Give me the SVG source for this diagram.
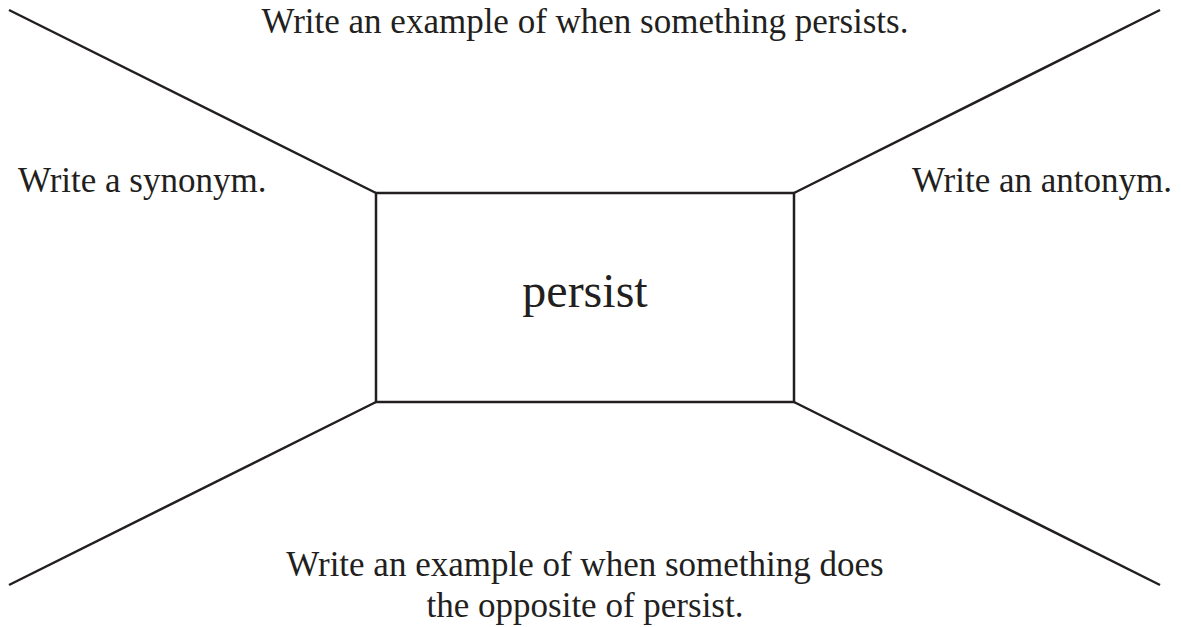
<svg xmlns="http://www.w3.org/2000/svg" width="1181" height="627" viewBox="0 0 1181 627">
<style>
.ln{stroke:#231f20;stroke-width:2.5;fill:none}
.t{font-family:"Liberation Serif","Times New Roman",serif;font-size:35px;fill:#231f20}
.big{font-family:"Liberation Serif","Times New Roman",serif;font-size:48px;fill:#231f20}
</style>
<rect width="1181" height="627" fill="#fff"/>
<g id="connectors">
<line class="ln" x1="9" y1="10" x2="376" y2="193"/>
<line class="ln" x1="1160" y1="10" x2="794" y2="193"/>
<line class="ln" x1="9" y1="585" x2="376" y2="402"/>
<line class="ln" x1="1160" y1="585" x2="794" y2="402"/>
</g>
<g id="center">
<rect class="ln" x="376" y="193" width="418" height="209"/>
<text class="big" x="585" y="307" text-anchor="middle">persist</text>
</g>
<g id="top"><text class="t" x="585" y="33" text-anchor="middle">Write an example of when something persists.</text></g>
<g id="left"><text class="t" x="18" y="192">Write a synonym.</text></g>
<g id="right"><text class="t" x="1172" y="192" text-anchor="end">Write an antonym.</text></g>
<g id="bottom">
<text class="t" x="585" y="576" text-anchor="middle">Write an example of when something does</text>
<text class="t" x="585" y="617" text-anchor="middle">the opposite of persist.</text>
</g>
</svg>
